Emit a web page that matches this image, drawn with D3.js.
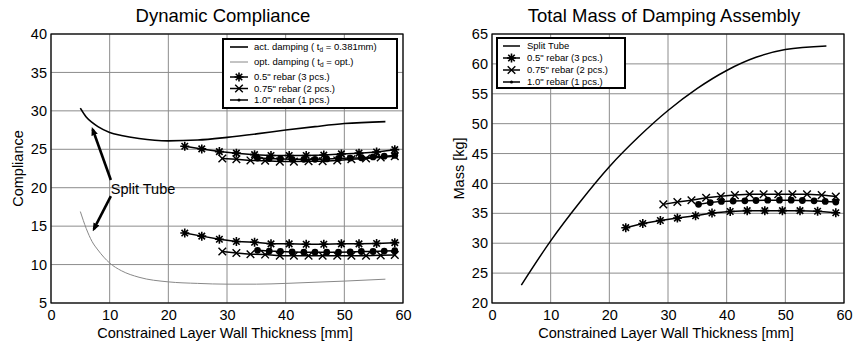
<!DOCTYPE html>
<html>
<head>
<meta charset="utf-8">
<script src="https://cdn.jsdelivr.net/npm/d3@7"></script>
<style>
  body { margin: 0; background: #fff; }
  svg { display: block; font-family: "Liberation Sans", Arial, sans-serif; }
</style>
</head>
<body>
<svg id="chart" width="855" height="347"></svg>
<script>
// ---- data ----
const xTicks = [0, 10, 20, 30, 40, 50, 60];
const complianceTicks = [5, 10, 15, 20, 25, 30, 35, 40];
const massTicks = [20, 25, 30, 35, 40, 45, 50, 55, 60, 65];

// split tube curves
const splitX = [5, 6, 7, 8, 10, 12, 15, 20, 25, 30, 35, 40, 45, 50, 57];
const actDamping = [30.35, 29.2, 28.5, 27.95, 27.2, 26.8, 26.4, 26.1, 26.2, 26.55, 27.0, 27.5, 27.95, 28.35, 28.6];
const optDamping = [16.9, 14.7, 13.0, 11.9, 10.2, 9.2, 8.35, 7.75, 7.55, 7.45, 7.45, 7.55, 7.7, 7.85, 8.1];
const massSplitX = [5, 10, 15, 20, 25, 30, 35, 40, 45, 50, 57];
const massSplit = [23.0, 30.4, 36.9, 42.8, 47.8, 52.2, 55.9, 58.9, 61.1, 62.4, 63.0];

// rebar wall thickness values
const rebar05X = [22.8, 25.7, 28.7, 31.6, 34.7, 37.5, 40.6, 43.5, 46.5, 49.5, 52.5, 55.5, 58.6];
const rebar075X = [29.2, 31.6, 34.0, 36.5, 39.0, 41.4, 43.9, 46.3, 48.8, 51.2, 53.7, 56.2, 58.6];
const rebar10X = [35.2, 37.2, 39.1, 41.1, 43.1, 45.0, 47.0, 49.0, 51.0, 52.9, 54.9, 56.8, 58.6];

// compliance, actual damping layer
const c05Act = [25.4, 25.05, 24.7, 24.5, 24.3, 24.2, 24.2, 24.2, 24.25, 24.4, 24.5, 24.65, 24.95];
const c075Act = [23.8, 23.7, 23.55, 23.5, 23.4, 23.4, 23.45, 23.45, 23.55, 23.7, 23.8, 23.95, 24.1];
const c10Act = [23.85, 23.8, 23.75, 23.7, 23.7, 23.7, 23.75, 23.8, 23.85, 23.9, 24.0, 24.1, 24.2];
// compliance, optimal damping layer
const c05Opt = [14.1, 13.7, 13.3, 13.0, 12.9, 12.7, 12.7, 12.65, 12.65, 12.7, 12.7, 12.75, 12.85];
const c075Opt = [11.7, 11.5, 11.35, 11.3, 11.15, 11.15, 11.15, 11.15, 11.15, 11.15, 11.15, 11.2, 11.25];
const c10Opt = [11.85, 11.75, 11.7, 11.65, 11.6, 11.6, 11.6, 11.6, 11.65, 11.7, 11.7, 11.75, 11.8];

// mass
const m05 = [32.6, 33.3, 33.8, 34.2, 34.6, 35.05, 35.3, 35.45, 35.45, 35.45, 35.45, 35.35, 35.1];
const m075 = [36.5, 36.9, 37.2, 37.6, 37.85, 38.05, 38.2, 38.2, 38.2, 38.2, 38.2, 38.05, 37.8];
const m10 = [36.5, 36.8, 37.0, 37.05, 37.1, 37.15, 37.2, 37.2, 37.2, 37.15, 37.1, 37.0, 36.9];

const svg = d3.select('#chart');
const xLabel = 'Constrained Layer Wall Thickness [mm]';

function makePanel(left, top, width, height, yDomain, yTicks, title, yLabel) {
  const x = d3.scaleLinear().domain([0, 60]).range([0, width]);
  const y = d3.scaleLinear().domain(yDomain).range([height, 0]);
  const g = svg.append('g').attr('transform', 'translate(' + left + ',' + top + ')');

  // grid
  g.append('g').selectAll('line.gx').data(xTicks).enter().append('line')
    .attr('x1', d => x(d)).attr('x2', d => x(d)).attr('y1', 0).attr('y2', height)
    .attr('stroke', '#8c8c8c').attr('stroke-width', 1);
  g.append('g').selectAll('line.gy').data(yTicks).enter().append('line')
    .attr('x1', 0).attr('x2', width).attr('y1', d => y(d)).attr('y2', d => y(d))
    .attr('stroke', '#8c8c8c').attr('stroke-width', 1);

  const ax = g.append('g').attr('transform', 'translate(0,' + height + ')')
    .call(d3.axisBottom(x).tickValues(xTicks).tickSize(0).tickPadding(7).tickFormat(d3.format('d')));
  const ay = g.append('g')
    .call(d3.axisLeft(y).tickValues(yTicks).tickSize(0).tickPadding(4).tickFormat(d3.format('d')));
  [ax, ay].forEach(a => {
    a.select('.domain').remove();
    a.selectAll('text').attr('font-size', 14.5).attr('fill', '#000')
      .attr('font-family', '"Liberation Sans", Arial, sans-serif');
  });

  g.append('rect').attr('width', width).attr('height', height)
    .attr('fill', 'none').attr('stroke', '#000').attr('stroke-width', 1.2);

  g.append('text').attr('x', width / 2 - 4).attr('y', 22 - top)
    .attr('text-anchor', 'middle').attr('font-size', 18.5).text(title);
  g.append('text').attr('x', width / 2 - 2).attr('y', 338 - top)
    .attr('text-anchor', 'middle').attr('font-size', 14.5).text(xLabel);
  g.append('text').attr('transform', 'translate(' + (-28) + ',' + (height / 2) + ') rotate(-90)')
    .attr('text-anchor', 'middle').attr('font-size', 14.5).text(yLabel);

  return { g, x, y };
}

function drawMarker(sel, type, cx, cy) {
  if (type === 'star') {
    const r = 4.5, k = r * 0.72;
    sel.append('path')
      .attr('d', 'M' + (cx - r) + ',' + cy + 'H' + (cx + r) + 'M' + cx + ',' + (cy - r) + 'V' + (cy + r) +
        'M' + (cx - k) + ',' + (cy - k) + 'L' + (cx + k) + ',' + (cy + k) +
        'M' + (cx - k) + ',' + (cy + k) + 'L' + (cx + k) + ',' + (cy - k))
      .attr('stroke', '#000').attr('stroke-width', 1.6).attr('fill', 'none');
  } else if (type === 'x') {
    const k = 3.8;
    sel.append('path')
      .attr('d', 'M' + (cx - k) + ',' + (cy - k) + 'L' + (cx + k) + ',' + (cy + k) +
        'M' + (cx - k) + ',' + (cy + k) + 'L' + (cx + k) + ',' + (cy - k))
      .attr('stroke', '#000').attr('stroke-width', 1.4).attr('fill', 'none');
  } else if (type === 'dot') {
    sel.append('circle').attr('cx', cx).attr('cy', cy).attr('r', 3.4).attr('fill', '#000');
  } else if (type === 'small') {
    sel.append('circle').attr('cx', cx).attr('cy', cy).attr('r', 1.5).attr('fill', '#000');
  }
}

function drawSeries(p, xs, ys, opts) {
  const pts = xs.map((d, i) => [d, ys[i]]);
  const line = d3.line().x(d => p.x(d[0])).y(d => p.y(d[1]))
    .curve(opts.smooth ? d3.curveMonotoneX : d3.curveLinear);
  const s = p.g.append('g');
  s.append('path').datum(pts).attr('d', line).attr('fill', 'none')
    .attr('stroke', opts.color || '#000').attr('stroke-width', opts.width || 1.5);
  if (opts.marker) pts.forEach(d => drawMarker(s, opts.marker, p.x(d[0]), p.y(d[1])));
}

function drawLegend(left, top, w, h, rows, lineX0, lineX1, textX) {
  const lg = svg.append('g');
  lg.append('rect').attr('x', left).attr('y', top).attr('width', w).attr('height', h)
    .attr('fill', '#fff').attr('stroke', '#000').attr('stroke-width', 2);
  rows.forEach(r => {
    lg.append('line').attr('x1', lineX0).attr('x2', lineX1).attr('y1', r.y).attr('y2', r.y)
      .attr('stroke', r.color || '#000').attr('stroke-width', r.width || 1.5);
    if (r.marker) drawMarker(lg, r.marker, (lineX0 + lineX1) / 2, r.y);
    const t = lg.append('text').attr('x', textX).attr('y', r.y + 3.4).attr('font-size', 9.5);
    r.parts.forEach(pt => {
      if (pt.sub) t.append('tspan').attr('font-size', 6.5).attr('dy', 2).text(pt.sub);
      else t.append('tspan').attr('dy', pt.after ? -2 : 0).text(pt.text);
    });
  });
}

// ---- left panel: dynamic compliance ----
const pc = makePanel(51, 34, 352, 269, [5, 40], complianceTicks, 'Dynamic Compliance', 'Compliance');
drawSeries(pc, splitX, optDamping, { smooth: true, color: '#888', width: 1 });
drawSeries(pc, splitX, actDamping, { smooth: true, width: 1.6 });
drawSeries(pc, rebar10X, c10Act, { marker: 'dot' });
drawSeries(pc, rebar075X, c075Act, { marker: 'x' });
drawSeries(pc, rebar05X, c05Act, { marker: 'star' });
drawSeries(pc, rebar10X, c10Opt, { marker: 'dot' });
drawSeries(pc, rebar075X, c075Opt, { marker: 'x' });
drawSeries(pc, rebar05X, c05Opt, { marker: 'star' });

// "Split Tube" annotation (data coordinates)
const arrows = [
  { from: [10.2, 21.0], to: [7.1, 27.6] },
  { from: [10.2, 18.9], to: [7.3, 14.6] }
];
pc.g.append('defs').append('marker').attr('id', 'ah').attr('viewBox', '0 0 10 10')
  .attr('refX', 7).attr('refY', 5).attr('markerWidth', 3.2).attr('markerHeight', 3.2)
  .attr('markerUnits', 'strokeWidth')
  .attr('orient', 'auto').append('path').attr('d', 'M0,1L10,5L0,9z').attr('fill', '#000');
arrows.forEach(a => {
  pc.g.append('line').attr('x1', pc.x(a.from[0])).attr('y1', pc.y(a.from[1]))
    .attr('x2', pc.x(a.to[0])).attr('y2', pc.y(a.to[1]))
    .attr('stroke', '#000').attr('stroke-width', 2.6).attr('marker-end', 'url(#ah)');
});
pc.g.append('text').attr('x', pc.x(10.2)).attr('y', pc.y(19.83) + 5)
  .attr('font-size', 14.5).text('Split Tube');

drawLegend(223, 39, 174, 69, [
  { y: 47, width: 1.6, parts: [{ text: 'act. damping (  t' }, { sub: 'd' }, { text: ' = 0.381mm)', after: true }] },
  { y: 62, color: '#888', width: 1, parts: [{ text: 'opt. damping (  t' }, { sub: 'd' }, { text: ' = opt.)', after: true }] },
  { y: 77, marker: 'star', parts: [{ text: '0.5" rebar (3 pcs.)' }] },
  { y: 88.5, marker: 'x', parts: [{ text: '0.75" rebar (2 pcs.)' }] },
  { y: 100, marker: 'small', parts: [{ text: '1.0" rebar (1 pcs.)' }] }
], 230, 248, 254);

// ---- right panel: total mass ----
const pm = makePanel(492, 34, 352, 269, [20, 65], massTicks, 'Total Mass of Damping Assembly', 'Mass [kg]');
drawSeries(pm, massSplitX, massSplit, { smooth: true });
drawSeries(pm, rebar05X, m05, { marker: 'star' });
drawSeries(pm, rebar075X, m075, { marker: 'x' });
drawSeries(pm, rebar10X, m10, { marker: 'dot' });

drawLegend(497, 38, 128, 50, [
  { y: 46, parts: [{ text: 'Split Tube' }] },
  { y: 58, marker: 'star', parts: [{ text: '0.5" rebar (3 pcs.)' }] },
  { y: 70, marker: 'x', parts: [{ text: '0.75" rebar (2 pcs.)' }] },
  { y: 82, marker: 'small', parts: [{ text: '1.0" rebar (1 pcs.)' }] }
], 503, 520, 527);
</script>
</body>
</html>
